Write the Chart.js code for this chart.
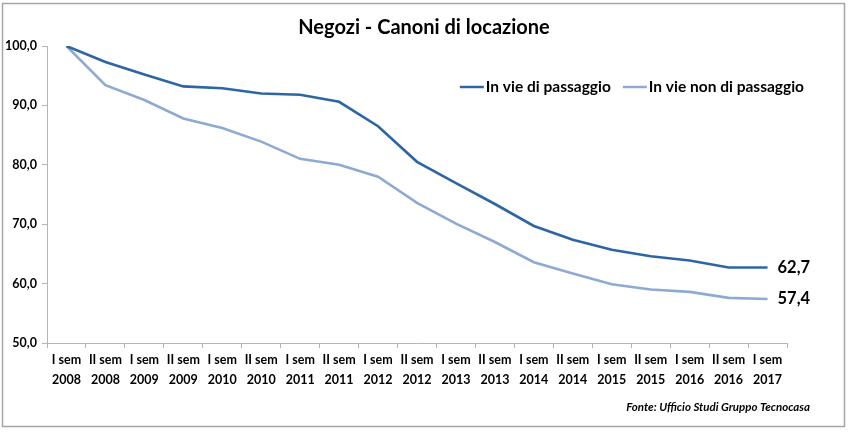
<!DOCTYPE html>
<html lang="it">
<head>
<meta charset="UTF-8">
<title>Negozi - Canoni di locazione</title>
<script src="https://cdn.jsdelivr.net/npm/chart.js"></script>
<style>
    html, body { margin: 0; padding: 0; background: #fff; }
    #wrap { width: 850px; height: 433px; position: relative; }
</style>
</head>
<body>
<div id="wrap"><canvas id="chart" width="850" height="433"></canvas></div>
<script>
const titolo = 'Negozi - Canoni di locazione';
const fonte = 'Fonte: Ufficio Studi Gruppo Tecnocasa';
const semestri = [
    ['I sem', '2008'], ['II sem', '2008'], ['I sem', '2009'], ['II sem', '2009'],
    ['I sem', '2010'], ['II sem', '2010'], ['I sem', '2011'], ['II sem', '2011'],
    ['I sem', '2012'], ['II sem', '2012'], ['I sem', '2013'], ['II sem', '2013'],
    ['I sem', '2014'], ['II sem', '2014'], ['I sem', '2015'], ['II sem', '2015'],
    ['I sem', '2016'], ['II sem', '2016'], ['I sem', '2017']
];
const viePassaggio = [100.0, 97.3, 95.2, 93.2, 92.9, 92.0, 91.8, 90.6, 86.5, 80.5,
                      76.9, 73.4, 69.7, 67.4, 65.7, 64.6, 63.9, 62.7, 62.7];
const vieNonPassaggio = [100.0, 93.4, 90.9, 87.8, 86.2, 83.9, 81.0, 80.0, 78.0, 73.6,
                         70.1, 67.0, 63.6, 61.7, 59.9, 59.0, 58.6, 57.6, 57.4];

const FONT = 'Lato, "Open Sans", sans-serif';
const fmt = v => v.toFixed(1).replace('.', ',');

// bordo, titolo, legenda, etichette finali e fonte
const decorazioni = {
    id: 'decorazioni',
    beforeDraw(chart) {
        const ctx = chart.ctx;
        ctx.save();
        ctx.fillStyle = '#fff';
        ctx.fillRect(0, 0, chart.width, chart.height);
        ctx.strokeStyle = '#a6a6a6';
        ctx.lineWidth = 1.5;
        ctx.strokeRect(2.5, 3.5, 842, 423);
        ctx.restore();
    },
    afterDraw(chart) {
        const ctx = chart.ctx;
        ctx.save();
        ctx.fillStyle = '#000';
        ctx.textBaseline = 'middle';

        ctx.font = 'bold 20px ' + FONT;
        ctx.textAlign = 'center';
        ctx.fillText(titolo, 424, 28);

        // legenda
        ctx.font = 'bold 15.5px ' + FONT;
        ctx.textAlign = 'left';
        const ds = chart.data.datasets;
        const lineW = 24, gap = 2, spacing = 12;
        let total = 0;
        ds.forEach((d, i) => {
            total += lineW + gap + ctx.measureText(d.label).width + (i < ds.length - 1 ? spacing : 0);
        });
        let x = 804 - total;
        const ly = 87;
        ds.forEach(d => {
            ctx.strokeStyle = d.borderColor;
            ctx.lineWidth = 2.5;
            ctx.beginPath();
            ctx.moveTo(x, ly);
            ctx.lineTo(x + lineW, ly);
            ctx.stroke();
            x += lineW + gap;
            ctx.fillText(d.label, x, ly);
            x += ctx.measureText(d.label).width + spacing;
        });

        // etichette ultimo valore
        ctx.font = 'bold 16.5px ' + FONT;
        ds.forEach((d, i) => {
            const meta = chart.getDatasetMeta(i);
            const last = meta.data[meta.data.length - 1];
            ctx.fillText(fmt(d.data[d.data.length - 1]), last.x + 10, last.y);
        });

        // fonte
        ctx.font = 'italic bold 11.5px ' + FONT;
        ctx.textAlign = 'right';
        ctx.fillText(fonte, 810, 407);
        ctx.restore();
    }
};

new Chart(document.getElementById('chart'), {
    type: 'line',
    data: {
        labels: semestri,
        datasets: [{
            label: 'In vie di passaggio',
            data: viePassaggio,
            borderColor: '#2e65a3',
            borderWidth: 2.6,
            pointRadius: 0,
            tension: 0,
            fill: false
        }, {
            label: 'In vie non di passaggio',
            data: vieNonPassaggio,
            borderColor: '#8eaad2',
            borderWidth: 2.6,
            pointRadius: 0,
            tension: 0,
            fill: false
        }]
    },
    options: {
        responsive: false,
        animation: false,
        layout: { padding: { left: 0, right: 63, top: 46, bottom: 30 } },
        plugins: {
            legend: { display: false },
            title: { display: false },
            tooltip: { enabled: false }
        },
        scales: {
            x: {
                offset: true,
                grid: { drawOnChartArea: false, offset: true, tickLength: 5, color: '#b5b5b5' },
                border: { color: '#b5b5b5' },
                ticks: {
                    color: '#000',
                    padding: 2,
                    maxRotation: 0,
                    autoSkip: false,
                    font: { family: FONT, size: 12.5, weight: 'bold', lineHeight: 1.6 }
                },
                afterFit(scale) { scale.height = 60; }
            },
            y: {
                min: 50,
                max: 100,
                grid: { drawOnChartArea: false, tickLength: 5, color: '#b5b5b5' },
                border: { color: '#b5b5b5' },
                ticks: {
                    stepSize: 10,
                    color: '#000',
                    padding: 5,
                    font: { family: FONT, size: 12.5, weight: 'bold' },
                    callback: v => fmt(v)
                },
                afterFit(scale) { scale.width = 47; }
            }
        }
    },
    plugins: [decorazioni]
});
</script>
</body>
</html>
